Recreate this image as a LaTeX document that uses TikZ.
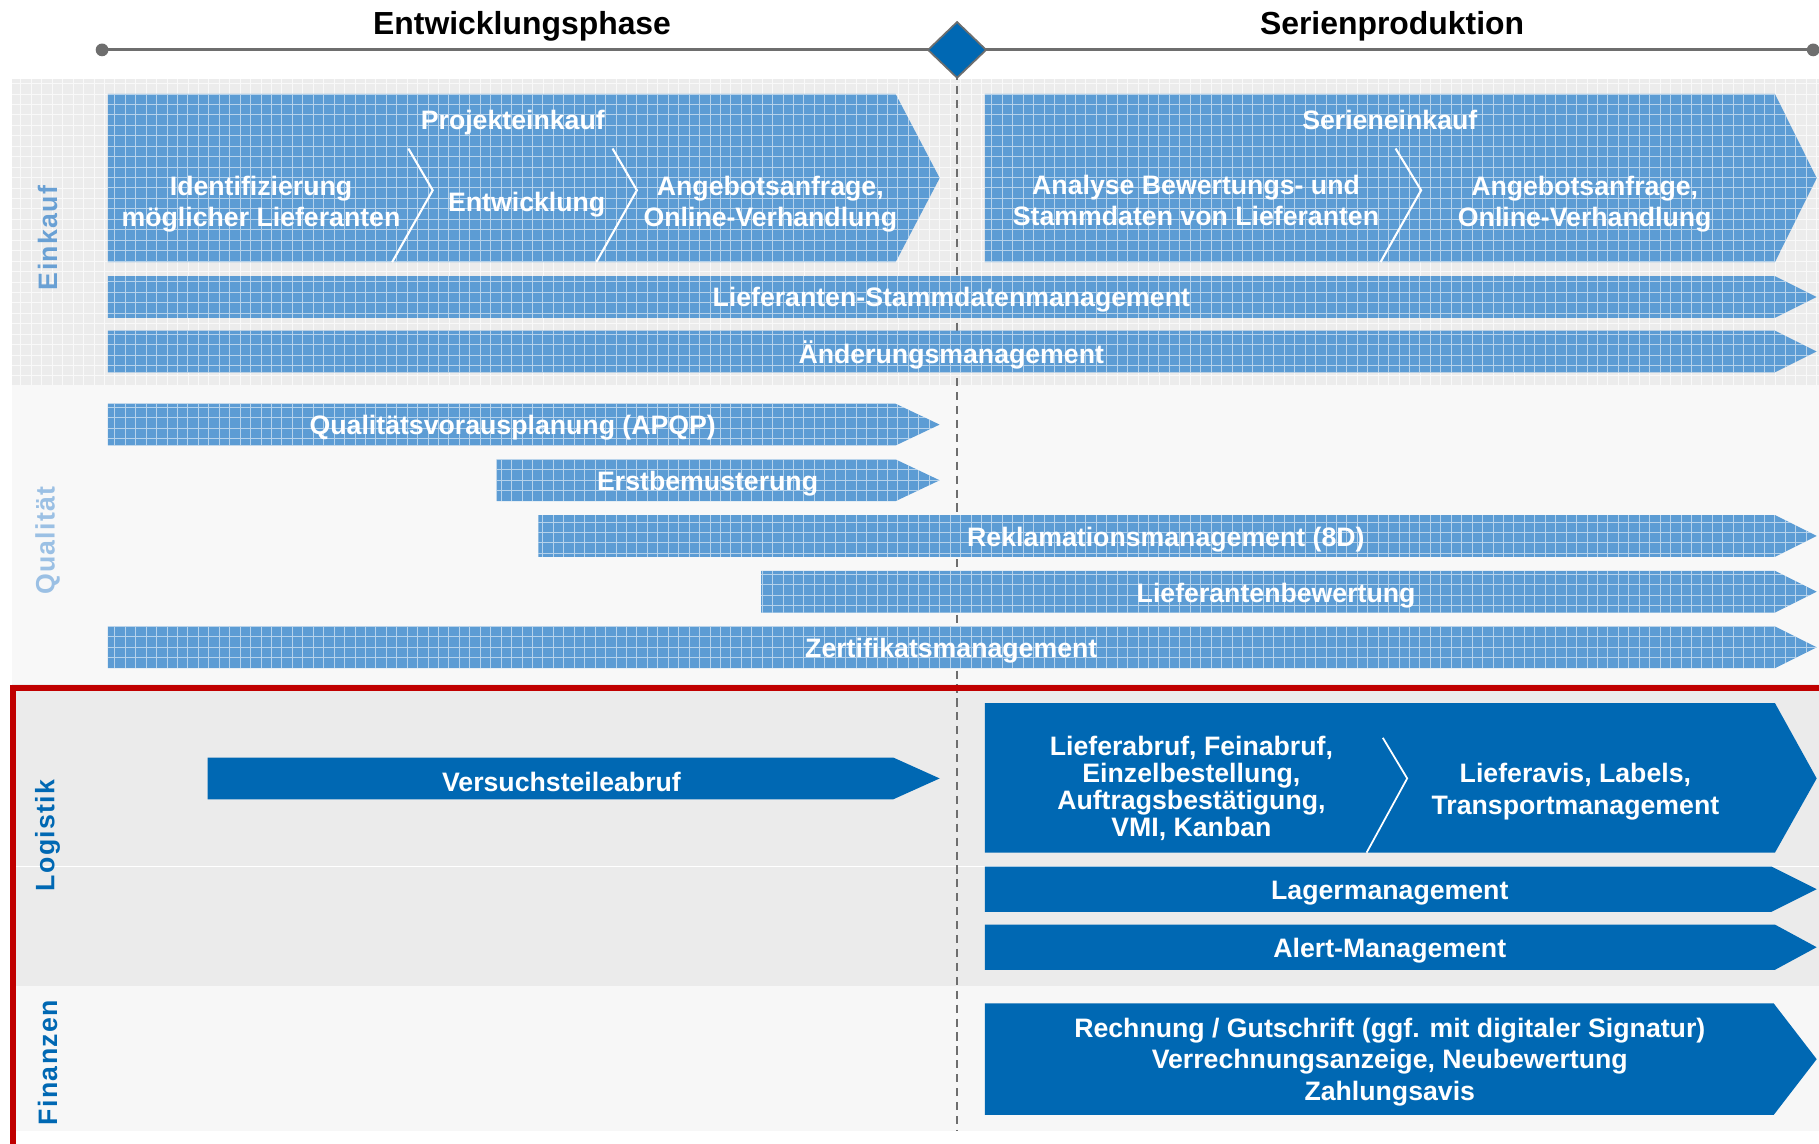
\documentclass[tikz,border=0pt]{standalone}
\usepackage{fontspec}
\setmainfont{Liberation Sans}
\definecolor{solblue}{RGB}{0,104,179}
\definecolor{texblue}{RGB}{92,156,212}
\definecolor{bandA}{RGB}{236,236,236}
\definecolor{bandB}{RGB}{248,248,248}
\definecolor{bandC}{RGB}{235,235,235}
\definecolor{bandD}{RGB}{247,247,247}
\definecolor{tlgray}{RGB}{110,110,110}
\definecolor{redframe}{RGB}{192,0,0}
\definecolor{lblA}{RGB}{105,160,212}
\definecolor{lblB}{RGB}{155,192,228}
\begin{document}
\begin{tikzpicture}[x=1pt,y=-1pt,
  texbox/.style={fill=texblue, path picture={\draw[white, opacity=0.55, line width=0.8pt, step=9pt] (path picture bounding box.south west) grid (path picture bounding box.north east);}},
  solbox/.style={fill=solblue},
  bandgrid/.style={path picture={\draw[white, opacity=0.7, line width=0.7pt, step=9pt] (path picture bounding box.south west) grid (path picture bounding box.north east);}},
  lbl/.style={text=white, inner sep=0pt, yshift=-2.5pt, align=center, font=\bfseries\fontsize{23}{27}\selectfont},
  ttl/.style={text=black, inner sep=0pt, yshift=-3pt, font=\bfseries\fontsize{27.5}{33}\selectfont},
  lane/.style={inner sep=0pt, rotate=90, font=\bfseries\fontsize{23}{27}\selectfont\addfontfeature{LetterSpace=5}},
  sep/.style={draw=white, line width=1.8pt}
]
\useasboundingbox (0,0) rectangle (1568,986);
\fill[white] (0,0) rectangle (1568,986);
% bands
\fill[bandA, bandgrid] (10,68) rectangle (1568,332);
\fill[bandB] (10,332) rectangle (1568,590);
\fill[bandC] (10,590) rectangle (1568,850);
\fill[bandD] (10,850) rectangle (1568,975);
\draw[white, line width=1.2pt] (10,747) -- (1568,747);
% timeline
\draw[tlgray, line width=2.5pt] (88,43) -- (1563,43);
\fill[tlgray] (88,43) circle (5.5);
\fill[tlgray] (1563,43) circle (5.5);
\draw[tlgray, line width=1.2pt, dash pattern=on 7pt off 5pt] (825,62) -- (825,975);
\draw[fill=solblue, draw=tlgray, line width=1.5pt] (825,19) -- (850,43) -- (825,67) -- (800,43) -- cycle;
\node[ttl] (ph1) at (450,20) {Entwicklungsphase};
\node[ttl] (ph2) at (1200,20) {Serienproduktion};
% Einkauf
\path[texbox] (93,81) -- (772,81) -- (810,153.5) -- (772,226) -- (93,226) -- cycle;
\path[texbox] (849,81) -- (1530,81) -- (1566,153.5) -- (1530,226) -- (849,226) -- cycle;
\draw[sep] (352,128) -- (373,164) -- (338,226);
\draw[sep] (528,128) -- (549,164) -- (514,226);
\draw[sep] (1203,128) -- (1225,164) -- (1190,226);
\path[texbox] (93,238) -- (1530,238) -- (1566,256) -- (1530,274) -- (93,274) -- cycle;
\path[texbox] (93,285) -- (1530,285) -- (1566,303) -- (1530,321) -- (93,321) -- cycle;
\node[lbl] (pe) at (442,103) {Projekteinkauf};
\node[lbl] (pe1) at (225,173.5) {Identifizierung\\möglicher Lieferanten};
\node[lbl] (pe2) at (454,173.5) {Entwicklung};
\node[lbl] (pe3) at (664,173.5) {Angebotsanfrage,\\Online-Verhandlung};
\node[lbl] (se) at (1198,101) {Serieneinkauf};
\node[lbl] (se1) at (1031,170.5) {Analyse Bewertungs- und\\Stammdaten von Lieferanten};
\node[lbl] (se2) at (1366,173.5) {Angebotsanfrage,\\Online-Verhandlung};
\node[lbl] (lsm) at (820,256) {Lieferanten-Stammdatenmanagement};
\node[lbl] (aem) at (820,303.5) {Änderungsmanagement};
% Qualitaet
\path[texbox] (93,348) -- (772,348) -- (810,366) -- (772,384) -- (93,384) -- cycle;
\path[texbox] (428,396) -- (772,396) -- (810,414) -- (772,432) -- (428,432) -- cycle;
\path[texbox] (464,444) -- (1530,444) -- (1566,462) -- (1530,480) -- (464,480) -- cycle;
\path[texbox] (656,492) -- (1530,492) -- (1566,510) -- (1530,528) -- (656,528) -- cycle;
\path[texbox] (93,540) -- (1530,540) -- (1566,558) -- (1530,576) -- (93,576) -- cycle;
\node[lbl] (q1) at (442,366.5) {Qualitätsvorausplanung (APQP)};
\node[lbl] (q2) at (610,414.5) {Erstbemusterung};
\node[lbl] (q3) at (1005,462.5) {Reklamationsmanagement (8D)};
\node[lbl] (q4) at (1100,511) {Lieferantenbewertung};
\node[lbl] (q5) at (820,558.5) {Zertifikatsmanagement};
% Logistik
\path[solbox] (179,653) -- (770,653) -- (810,671) -- (770,689) -- (179,689) -- cycle;
\path[solbox] (849,606) -- (1530,606) -- (1566,671) -- (1530,735) -- (849,735) -- cycle;
\draw[sep, line width=1.5pt] (1192,636) -- (1213,671) -- (1178,735);
\path[solbox] (849,747) -- (1527,747) -- (1566,766.5) -- (1527,786) -- (849,786) -- cycle;
\path[solbox] (849,797) -- (1530,797) -- (1566,816.5) -- (1530,836) -- (849,836) -- cycle;
\node[lbl] (l1) at (484,671.5) {Versuchsteileabruf};
\node[lbl, font=\bfseries\fontsize{23}{23.3}\selectfont] (l2) at (1027,677) {Lieferabruf, Feinabruf,\\Einzelbestellung,\\Auftragsbestätigung,\\VMI, Kanban};
\node[lbl] (l3) at (1358,680) {Lieferavis, Labels,\\Transportmanagement};
\node[lbl] (l4) at (1198,767) {Lagermanagement};
\node[lbl] (l5) at (1198,817) {Alert-Management};
% Finanzen
\path[solbox] (849,865) -- (1529,865) -- (1566,913) -- (1529,961) -- (849,961) -- cycle;
\node[lbl, font=\bfseries\fontsize{23}{27.5}\selectfont] (f1) at (1198,913) {Rechnung / Gutschrift (ggf. mit digitaler Signatur)\\Verrechnungsanzeige, Neubewertung\\Zahlungsavis};
% frame
\draw[redframe, line width=5.5pt] (11,593) rectangle (1578,992);
% lane labels
\node[lane, text=lblA] (le) at (41,205) {Einkauf};
\node[lane, text=lblB] (lq) at (41,466) {Qualität};
\node[lane, text=solblue] (ll) at (41,720) {Logistik};
\node[lane, text=solblue] (lf) at (41,916) {Finanzen};
\end{tikzpicture}
\end{document}
